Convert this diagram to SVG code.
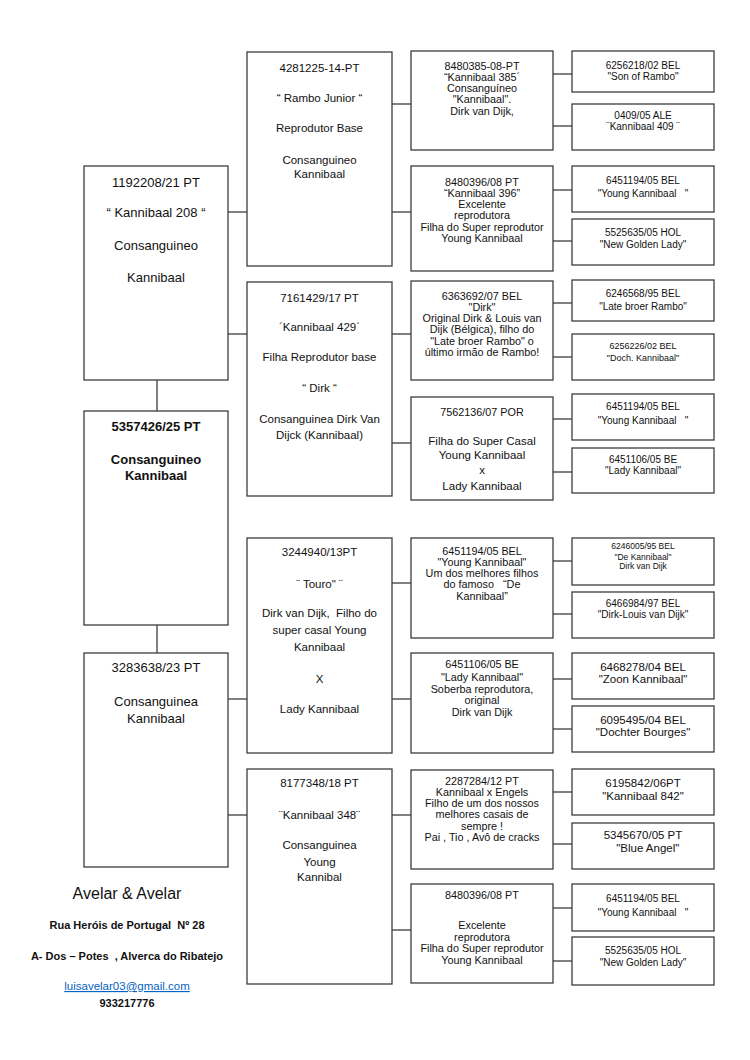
<svg xmlns="http://www.w3.org/2000/svg" width="750" height="1060" viewBox="0 0 750 1060">
<style>
rect.b{fill:#fff;stroke:#3c3c3c;stroke-width:1.3}
.con line{stroke:#3c3c3c;stroke-width:1.3}
text{font-family:"Liberation Sans",Arial,sans-serif;fill:#111;text-anchor:middle;white-space:pre}
.t1{font-size:13px}
.t1b{font-size:13px;font-weight:bold}
.t2{font-size:11.5px}
.t3{font-size:10.8px}
.t4{font-size:10px}
</style>
<rect width="750" height="1060" fill="#fff"/>
<g class="con" id="connectors">
<line x1="157" y1="380" x2="157" y2="411"/>
<line x1="157" y1="625" x2="157" y2="653"/>
<line x1="228" y1="212" x2="247" y2="212"/>
<line x1="228" y1="334" x2="247" y2="334"/>
<line x1="228" y1="699" x2="247" y2="699"/>
<line x1="228" y1="815" x2="247" y2="815"/>
<line x1="392" y1="104" x2="411" y2="104"/>
<line x1="392" y1="212" x2="411" y2="212"/>
<line x1="392" y1="334" x2="411" y2="334"/>
<line x1="392" y1="443" x2="411" y2="443"/>
<line x1="392" y1="583" x2="411" y2="583"/>
<line x1="392" y1="699" x2="411" y2="699"/>
<line x1="392" y1="815" x2="411" y2="815"/>
<line x1="392" y1="930" x2="411" y2="930"/>
<line x1="553" y1="74" x2="572" y2="74"/>
<line x1="553" y1="126" x2="572" y2="126"/>
<line x1="553" y1="190" x2="572" y2="190"/>
<line x1="553" y1="241" x2="572" y2="241"/>
<line x1="553" y1="303" x2="572" y2="303"/>
<line x1="553" y1="357" x2="572" y2="357"/>
<line x1="553" y1="419" x2="572" y2="419"/>
<line x1="553" y1="472" x2="572" y2="472"/>
<line x1="553" y1="561" x2="572" y2="561"/>
<line x1="553" y1="614" x2="572" y2="614"/>
<line x1="553" y1="679" x2="572" y2="679"/>
<line x1="553" y1="729" x2="572" y2="729"/>
<line x1="553" y1="792" x2="572" y2="792"/>
<line x1="553" y1="844" x2="572" y2="844"/>
<line x1="553" y1="908" x2="572" y2="908"/>
<line x1="553" y1="961" x2="572" y2="961"/>
</g>

<!-- Generation 1 -->
<g id="n1192208">
<rect class="b" x="84" y="166" width="144" height="214"/>
<text class="t1" x="156" y="187">1192208/21 PT</text>
<text class="t1" x="156" y="217">“ Kannibaal 208 “</text>
<text class="t1" x="156" y="250">Consanguineo</text>
<text class="t1" x="156" y="282">Kannibaal</text>
</g>
<g id="n5357426">
<rect class="b" x="84" y="411" width="144" height="214"/>
<text class="t1b" x="156" y="431">5357426/25 PT</text>
<text class="t1b" x="156" y="464">Consanguineo</text>
<text class="t1b" x="156" y="480">Kannibaal</text>
</g>
<g id="n3283638">
<rect class="b" x="84" y="653" width="144" height="214"/>
<text class="t1" x="156" y="672">3283638/23 PT</text>
<text class="t1" x="156" y="706">Consanguinea</text>
<text class="t1" x="156" y="723">Kannibaal</text>
</g>

<!-- Generation 2 -->
<g id="n4281225">
<rect class="b" x="247" y="52" width="145" height="214"/>
<text class="t2" x="319.5" y="72">4281225-14-PT</text>
<text class="t2" x="319.5" y="102">“ Rambo Junior “</text>
<text class="t2" x="319.5" y="132">Reprodutor Base</text>
<text class="t2" x="319.5" y="164">Consanguineo</text>
<text class="t2" x="319.5" y="178">Kannibaal</text>
</g>
<g id="n7161429">
<rect class="b" x="247" y="282" width="145" height="214"/>
<text class="t2" x="319.5" y="302">7161429/17 PT</text>
<text class="t2" x="319.5" y="331">´Kannibaal 429´</text>
<text class="t2" x="319.5" y="361">Filha Reprodutor base</text>
<text class="t2" x="319.5" y="392">“ Dirk “</text>
<text class="t2" x="319.5" y="423">Consanguinea Dirk Van</text>
<text class="t2" x="319.5" y="439">Dijck (Kannibaal)</text>
</g>
<g id="n3244940">
<rect class="b" x="247" y="538" width="145" height="215"/>
<text class="t2" x="319.5" y="556">3244940/13PT</text>
<text class="t2" x="319.5" y="588">¨ Touro" ¨</text>
<text class="t2" x="319.5" y="617">Dirk van Dijk,  Filho do</text>
<text class="t2" x="319.5" y="634">super casal Young</text>
<text class="t2" x="319.5" y="651">Kannibaal</text>
<text class="t2" x="319.5" y="683">X</text>
<text class="t2" x="319.5" y="713">Lady Kannibaal</text>
</g>
<g id="n8177348">
<rect class="b" x="247" y="769" width="145" height="215"/>
<text class="t2" x="319.5" y="787">8177348/18 PT</text>
<text class="t2" x="319.5" y="819">¨Kannibaal 348¨</text>
<text class="t2" x="319.5" y="849">Consanguinea</text>
<text class="t2" x="319.5" y="866">Young</text>
<text class="t2" x="319.5" y="881">Kannibal</text>
</g>

<!-- Generation 3 -->
<g id="n8480385">
<rect class="b" x="411" y="51" width="142" height="99"/>
<text class="t3" x="482" y="69.5">8480385-08-PT</text>
<text class="t3" x="482" y="80.5">“Kannibaal 385´</text>
<text class="t3" x="482" y="92">Consanguíneo</text>
<text class="t3" x="482" y="103">"Kannibaal".</text>
<text class="t3" x="482" y="114.5">Dirk van Dijk,</text>
</g>
<g id="n8480396a">
<rect class="b" x="411" y="166" width="142" height="105"/>
<text class="t3" x="482" y="185.5">8480396/08 PT</text>
<text class="t3" x="482" y="197">“Kannibaal 396”</text>
<text class="t3" x="482" y="208">Excelente</text>
<text class="t3" x="482" y="219">reprodutora</text>
<text class="t3" x="482" y="230.5">Filha do Super reprodutor</text>
<text class="t3" x="482" y="241.5">Young Kannibaal</text>
</g>
<g id="n6363692">
<rect class="b" x="411" y="281" width="142" height="99"/>
<text class="t3" x="482" y="299.5">6363692/07 BEL</text>
<text class="t3" x="482" y="310.5">"Dirk"</text>
<text class="t3" x="482" y="322">Original Dirk &amp; Louis van</text>
<text class="t3" x="482" y="333">Dijk (Bélgica), filho do</text>
<text class="t3" x="482" y="344.5">"Late broer Rambo" o</text>
<text class="t3" x="482" y="355.5">último irmão de Rambo!</text>
</g>
<g id="n7562136">
<rect class="b" x="411" y="397" width="142" height="103"/>
<text class="t3" x="482" y="415.5">7562136/07 POR</text>
<text class="t2" x="482" y="444.5">Filha do Super Casal</text>
<text class="t2" x="482" y="459">Young Kannibaal</text>
<text class="t2" x="482" y="474">x</text>
<text class="t2" x="482" y="489.5">Lady Kannibaal</text>
</g>
<g id="n6451194g3">
<rect class="b" x="411" y="538" width="142" height="100"/>
<text class="t3" x="482" y="554.5">6451194/05 BEL</text>
<text class="t3" x="482" y="566">"Young Kannibaal"</text>
<text class="t3" x="482" y="577">Um dos melhores filhos</text>
<text class="t3" x="482" y="588">do famoso   “De</text>
<text class="t3" x="482" y="599.5">Kannibaal”</text>
</g>
<g id="n6451106g3">
<rect class="b" x="411" y="653" width="142" height="100"/>
<text class="t3" x="482" y="668">6451106/05 BE</text>
<text class="t3" x="482" y="680.5">"Lady Kannibaal"</text>
<text class="t3" x="482" y="693">Soberba reprodutora,</text>
<text class="t3" x="482" y="704">original</text>
<text class="t3" x="482" y="715.5">Dirk van Dijk</text>
</g>
<g id="n2287284">
<rect class="b" x="411" y="770" width="142" height="99"/>
<text class="t3" x="482" y="784.5">2287284/12 PT</text>
<text class="t3" x="482" y="796">Kannibaal x Engels</text>
<text class="t3" x="482" y="807">Filho de um dos nossos</text>
<text class="t3" x="482" y="818">melhores casais de</text>
<text class="t3" x="482" y="829.5">sempre !</text>
<text class="t3" x="482" y="840.5">Pai , Tio , Avô de cracks</text>
</g>
<g id="n8480396b">
<rect class="b" x="411" y="884" width="142" height="99"/>
<text class="t3" x="482" y="899">8480396/08 PT</text>
<text class="t3" x="482" y="929">Excelente</text>
<text class="t3" x="482" y="940.5">reprodutora</text>
<text class="t3" x="482" y="952">Filha do Super reprodutor</text>
<text class="t3" x="482" y="964">Young Kannibaal</text>
</g>

<!-- Generation 4 -->
<g id="n6256218">
<rect class="b" x="572" y="51" width="142" height="41"/>
<text class="t4" x="643" y="69">6256218/02 BEL</text>
<text class="t4" x="643" y="80">"Son of Rambo"</text>
</g>
<g id="n0409">
<rect class="b" x="572" y="104" width="142" height="46"/>
<text class="t4" x="643" y="119">0409/05 ALE</text>
<text class="t4" x="643" y="130">¨Kannibaal 409 ¨</text>
</g>
<g id="n6451194a">
<rect class="b" x="572" y="166" width="142" height="46"/>
<text class="t4" x="643" y="183.5">6451194/05 BEL</text>
<text class="t4" x="643" y="197">"Young Kannibaal   "</text>
</g>
<g id="n5525635a">
<rect class="b" x="572" y="219" width="142" height="46"/>
<text class="t4" x="643" y="236">5525635/05 HOL</text>
<text class="t4" x="643" y="248">"New Golden Lady"</text>
</g>
<g id="n6246568">
<rect class="b" x="572" y="280" width="142" height="41"/>
<text class="t4" x="643" y="297">6246568/95 BEL</text>
<text class="t4" x="643" y="310">"Late broer Rambo"</text>
</g>
<g id="n6256226">
<rect class="b" x="572" y="334" width="142" height="46"/>
<text class="t4" x="643" y="349" style="font-size:9px">6256226/02 BEL</text>
<text class="t4" x="643" y="360.5" style="font-size:9px">"Doch. Kannibaal"</text>
</g>
<g id="n6451194b">
<rect class="b" x="572" y="394" width="142" height="46"/>
<text class="t4" x="643" y="410">6451194/05 BEL</text>
<text class="t4" x="643" y="423.5">"Young Kannibaal   "</text>
</g>
<g id="n6451106a">
<rect class="b" x="572" y="448" width="142" height="45"/>
<text class="t4" x="643" y="463">6451106/05 BE</text>
<text class="t4" x="643" y="474">"Lady Kannibaal"</text>
</g>
<g id="n6246005">
<rect class="b" x="572" y="538" width="142" height="47"/>
<text class="t4" x="643" y="548.5" style="font-size:8.5px">6246005/95 BEL</text>
<text class="t4" x="643" y="559.5" style="font-size:8.5px">"De Kannibaal"</text>
<text class="t4" x="643" y="569" style="font-size:8.5px">Dirk van Dijk</text>
</g>
<g id="n6466984">
<rect class="b" x="572" y="592" width="142" height="46"/>
<text class="t4" x="643" y="607">6466984/97 BEL</text>
<text class="t4" x="643" y="618">"Dirk-Louis van Dijk"</text>
</g>
<g id="n6468278">
<rect class="b" x="572" y="653" width="142" height="46"/>
<text class="t2" x="643" y="670.5">6468278/04 BEL</text>
<text class="t2" x="643" y="683">"Zoon Kannibaal"</text>
</g>
<g id="n6095495">
<rect class="b" x="572" y="706" width="142" height="46"/>
<text class="t2" x="643" y="724">6095495/04 BEL</text>
<text class="t2" x="643" y="736">"Dochter Bourges"</text>
</g>
<g id="n6195842">
<rect class="b" x="572" y="769" width="142" height="46"/>
<text class="t2" x="643" y="786.5">6195842/06PT</text>
<text class="t2" x="643" y="799.5">"Kannibaal 842"</text>
</g>
<g id="n5345670">
<rect class="b" x="572" y="823" width="142" height="46"/>
<text class="t2" x="643" y="839">5345670/05 PT</text>
<text class="t2" x="643" y="852">   "Blue Angel"</text>
</g>
<g id="n6451194c">
<rect class="b" x="572" y="884" width="142" height="47"/>
<text class="t4" x="643" y="902">6451194/05 BEL</text>
<text class="t4" x="643" y="915.5">"Young Kannibaal   "</text>
</g>
<g id="n5525635b">
<rect class="b" x="572" y="937" width="142" height="48"/>
<text class="t4" x="643" y="953.5">5525635/05 HOL</text>
<text class="t4" x="643" y="966">"New Golden Lady"</text>
</g>

<!-- Footer -->
<g id="footer">
<text x="127" y="899" style="font-size:16px">Avelar &amp; Avelar</text>
<text x="127" y="929" style="font-size:11px;font-weight:bold">Rua Heróis de Portugal  Nº 28</text>
<text x="127" y="960" style="font-size:11px;font-weight:bold">A- Dos – Potes  , Alverca do Ribatejo</text>
<text x="127" y="990" style="font-size:11.5px;fill:#0563C1;text-decoration:underline">luisavelar03@gmail.com</text>
<text x="127" y="1007" style="font-size:11px;font-weight:bold">933217776</text>
</g>
</svg>
